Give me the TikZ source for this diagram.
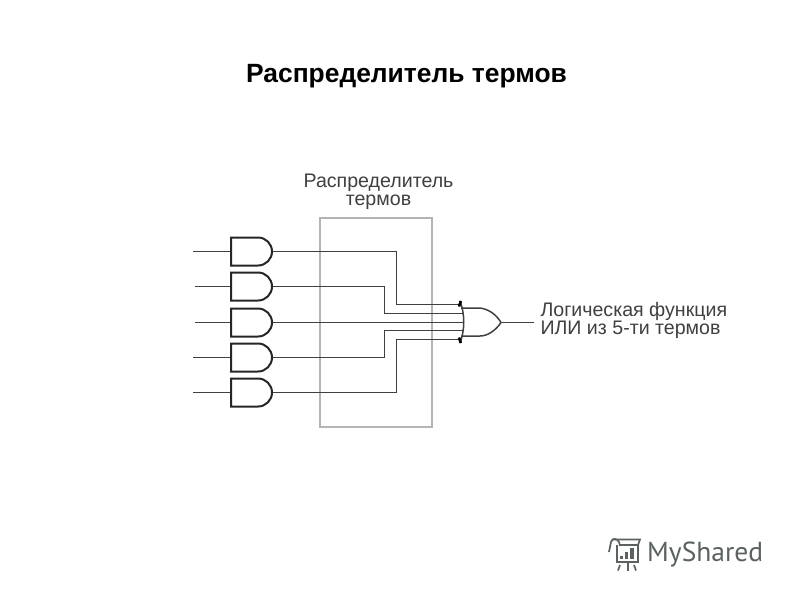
\documentclass[tikz,border=0pt]{standalone}
\usepackage{fontspec}
\setmainfont{Liberation Sans}
\newfontfamily\logofont{PT Sans}
\definecolor{wirec}{HTML}{404040}
\definecolor{boxc}{HTML}{B4B4B4}
\definecolor{logoc}{HTML}{59625E}
\tikzset{
  wire/.style={draw=wirec,line width=1.5pt},
  gateline/.style={draw=black!85,line width=2pt,line join=miter},
  gatebox/.style={minimum width=41pt,minimum height=28pt,inner sep=0pt,outer sep=0pt},
  label/.style={inner sep=0pt,outer sep=0pt,text=black!75,align=center},
  logoline/.style={draw=logoc,line width=1.7pt}
}
\begin{document}
\begin{tikzpicture}[x=1pt,y=-1pt]
\useasboundingbox (0,0) rectangle (800,600);
\fill[white] (0,0) rectangle (800,600);
\node[inner sep=0pt,font=\bfseries\fontsize{26.4}{30}\selectfont] (title) at (406.5,76) {Распределитель термов};
\node[label,font=\fontsize{19.6}{18}\selectfont] (boxlabel) at (378.5,191.5) {Распределитель\\термов};
\node[draw=boxc,line width=2.2pt,minimum width=112pt,minimum height=209pt,inner sep=0pt] (box) at (376,322.5) {};
\foreach \n/\y/\xs in {1/251.5/193,2/286.5/195,3/322.5/195,4/357.5/193,5/392.5/193}{
  \coordinate (in\n) at (\xs,\y);
  \node[gatebox] (g\n) at (251.5,\y) {};
  \draw[wire] (in\n) -- (g\n.west);
}
% OR gate
\coordinate (ortl) at (460,301);
\coordinate (orbl) at (460,343);
\coordinate (ort) at (461,308);
\coordinate (orb) at (461,336);
\coordinate (ortip) at (501,322.5);
\coordinate (a1) at (461,304.5);
\coordinate (a2) at (462.5,313.5);
\coordinate (a3) at (463.5,322.5);
\coordinate (a4) at (462.5,330.5);
\coordinate (a5) at (461,339.5);
\coordinate (out) at (534,322.5);
% wires
\draw[wire] (g1.east) -- (396.5,251.5) -- (396.5,304.5) -- (a1);
\draw[wire] (g2.east) -- (384.5,286.5) -- (384.5,313.5) -- (a2);
\draw[wire] (g3.east) -- (a3);
\draw[wire] (g4.east) -- (384.5,357.5) -- (384.5,330.5) -- (a4);
\draw[wire] (g5.east) -- (396.5,392.5) -- (396.5,339.5) -- (a5);
\draw[wire] (ortip) -- (out);
% AND gates
\foreach \n in {1,...,5}{
  \draw[gateline] (g\n.north west) -- ++(27,0) arc[start angle=-90,end angle=90,radius=14] -- (g\n.south west) -- cycle;
}
% OR gate shape
\draw[wire] (ortl) .. controls (465,314) and (465,330) .. (orbl);
\draw[wire] (ort) -- (480,308) .. controls (488,309) and (496,314) .. (ortip) .. controls (496,330) and (488,336) .. (480,336) -- (orb);
\draw[draw=black,line width=2.6pt] (460.8,301) -- (459,306.5);
\draw[draw=black,line width=2.6pt] (460.8,343) -- (459,337.5);
\node[label,align=left,anchor=west,font=\fontsize{19.6}{18}\selectfont] (func) at (540.5,320) {Логическая функция\\ИЛИ из 5-ти термов};
% logo
\draw[logoline] (609,552) -- (611,542) .. controls (612,538) and (617,538) .. (619,542) -- (620,546);
\draw[logoline] (612,539.5) -- (640,539.5) -- (638,545) -- (619,545);
\draw[logoline] (617,545) -- (617,562) -- (638,562) -- (638,545);
\draw[logoline] (620,565) -- (618,570.5);
\draw[logoline] (628,563) -- (628,570.5);
\draw[logoline] (634,565) -- (636,570.5);
\fill[logoc] (620,556) rectangle (623,559);
\fill[logoc] (625,552) rectangle (628,559);
\fill[logoc] (630,548) rectangle (634,559);
\node[inner sep=0pt,anchor=west,text=logoc,font=\logofont\fontsize{27.5}{30}\selectfont] (logo) at (647,555) {MyShared};
\end{tikzpicture}
\end{document}
